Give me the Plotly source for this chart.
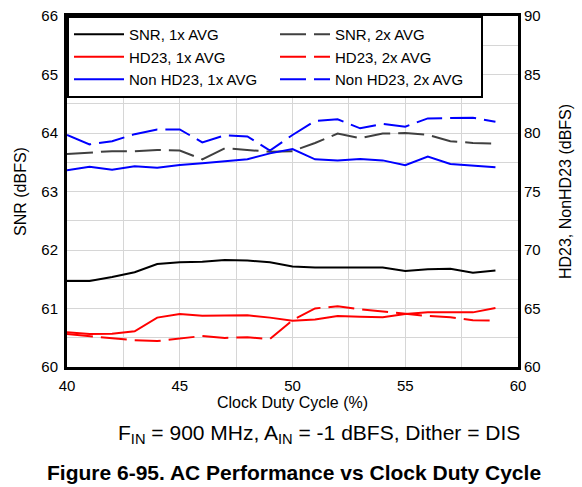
import plotly.graph_objects as go

duty_cycle = list(range(40, 60))

snr_1x = [61.47, 61.47, 61.54, 61.62, 61.76, 61.79, 61.80, 61.83, 61.82, 61.79,
          61.72, 61.70, 61.70, 61.70, 61.70, 61.64, 61.67, 61.68, 61.61, 61.65]
snr_2x = [63.64, 63.66, 63.69, 63.69, 63.71, 63.70, 63.55, 63.74, 63.71, 63.68,
          63.69, 63.83, 63.99, 63.91, 63.99, 64.00, 63.97, 63.86, 63.83, 63.82]
hd23_1x = [62.96, 62.82, 62.85, 63.05, 64.22, 64.53, 64.39, 64.39, 64.42, 64.22,
           63.96, 64.07, 64.36, 64.30, 64.25, 64.53, 64.67, 64.67, 64.67, 65.04]
hd23_2x = [62.82, 62.65, 62.42, 62.28, 62.22, 62.42, 62.65, 62.48, 62.54, 62.39,
           64.00, 65.01, 65.19, 64.93, 64.73, 64.53, 64.36, 64.25, 64.00, 63.96]
nonhd23_1x = [76.81, 77.12, 76.86, 77.15, 77.03, 77.26, 77.41, 77.55, 77.75, 78.26,
              78.63, 77.75, 77.66, 77.78, 77.66, 77.24, 77.98, 77.35, 77.18, 77.07]
nonhd23_2x = [79.83, 79.03, 79.30, 79.90, 80.30, 80.30, 79.20, 79.80, 79.70, 78.50,
              79.83, 81.03, 81.17, 80.40, 80.77, 80.54, 81.25, 81.28, 81.30, 80.97]

x_ticks = [40, 45, 50, 55, 60]
snr_ticks = [60, 61, 62, 63, 64, 65, 66]
hd_ticks = [60, 65, 70, 75, 80, 85, 90]

FONT = "Liberation Sans, Arial, sans-serif"
DASH = "26px,8px"
GRID = "#d6d6d6"

fig = go.Figure()
series = [
    ("SNR, 1x AVG", snr_1x, "y", "#000000", "solid"),
    ("SNR, 2x AVG", snr_2x, "y", "#404040", DASH),
    ("HD23, 1x AVG", hd23_1x, "y2", "#ff0000", "solid"),
    ("HD23, 2x AVG", hd23_2x, "y2", "#ff0000", DASH),
    ("Non HD23, 1x AVG", nonhd23_1x, "y2", "#0000ff", "solid"),
    ("Non HD23, 2x AVG", nonhd23_2x, "y2", "#0000ff", DASH),
]
for name, vals, yax, color, dash in series:
    fig.add_trace(go.Scatter(x=duty_cycle, y=vals, name=name, yaxis=yax, mode="lines",
                             line=dict(color=color, width=2, dash=dash)))

fig.update_layout(
    width=582, height=487,
    margin=dict(l=67, r=64, t=16, b=120, autoexpand=False),
    paper_bgcolor="white", plot_bgcolor="white",
    font=dict(family=FONT, size=15, color="#000000"),
    showlegend=True,
    legend=dict(orientation="h", x=0, y=1, xanchor="left", yanchor="top",
                bgcolor="white", bordercolor="black", borderwidth=2,
                font=dict(size=15), entrywidth=141, entrywidthmode="pixels",
                itemwidth=50, tracegroupgap=0),
    xaxis=dict(range=[40, 60], tickvals=x_ticks, showgrid=True, gridcolor=GRID, gridwidth=1,
               minor=dict(dtick=2.5, showgrid=True, gridcolor=GRID, gridwidth=1),
               showline=True, linecolor="black", linewidth=3, mirror=True, ticks="",
               zeroline=False, automargin=False, ticklabelstandoff=3,
               title=dict(text="Clock Duty Cycle (%)", font=dict(size=16), standoff=2),
               tickfont=dict(size=15)),
    yaxis=dict(range=[60, 66], tickvals=snr_ticks, showgrid=True, gridcolor=GRID, gridwidth=1,
               minor=dict(dtick=0.5, showgrid=True, gridcolor=GRID, gridwidth=1),
               showline=True, linecolor="black", linewidth=3, mirror=True, ticks="",
               zeroline=False, automargin=False, ticklabelstandoff=3,
               title=dict(text="SNR (dBFS)", font=dict(size=16), standoff=11),
               tickfont=dict(size=15)),
    yaxis2=dict(range=[60, 90], tickvals=hd_ticks, overlaying="y", side="right",
                showgrid=False, zeroline=False, showline=False, ticks="",
                automargin=False, ticklabelstandoff=5,
                title=dict(text="HD23, NonHD23 (dBFS)", font=dict(size=16), standoff=20),
                tickfont=dict(size=15)),
    annotations=[
        dict(text="F<sub>IN</sub> = 900 MHz, A<sub>IN</sub> = -1 dBFS, Dither = DIS",
             xref="paper", yref="paper", x=0.559, y=-0.19, xanchor="center", yanchor="middle",
             showarrow=False, font=dict(size=21, family=FONT)),
        dict(text="<b>Figure 6-95. AC Performance vs Clock Duty Cycle</b>",
             xref="paper", yref="paper", x=0.503, y=-0.30, xanchor="center", yanchor="middle",
             showarrow=False, font=dict(size=21, family=FONT)),
    ],
)

fig.write_html("out.html", config={"displayModeBar": False},
               post_script="document.body.style.margin='0px';")
